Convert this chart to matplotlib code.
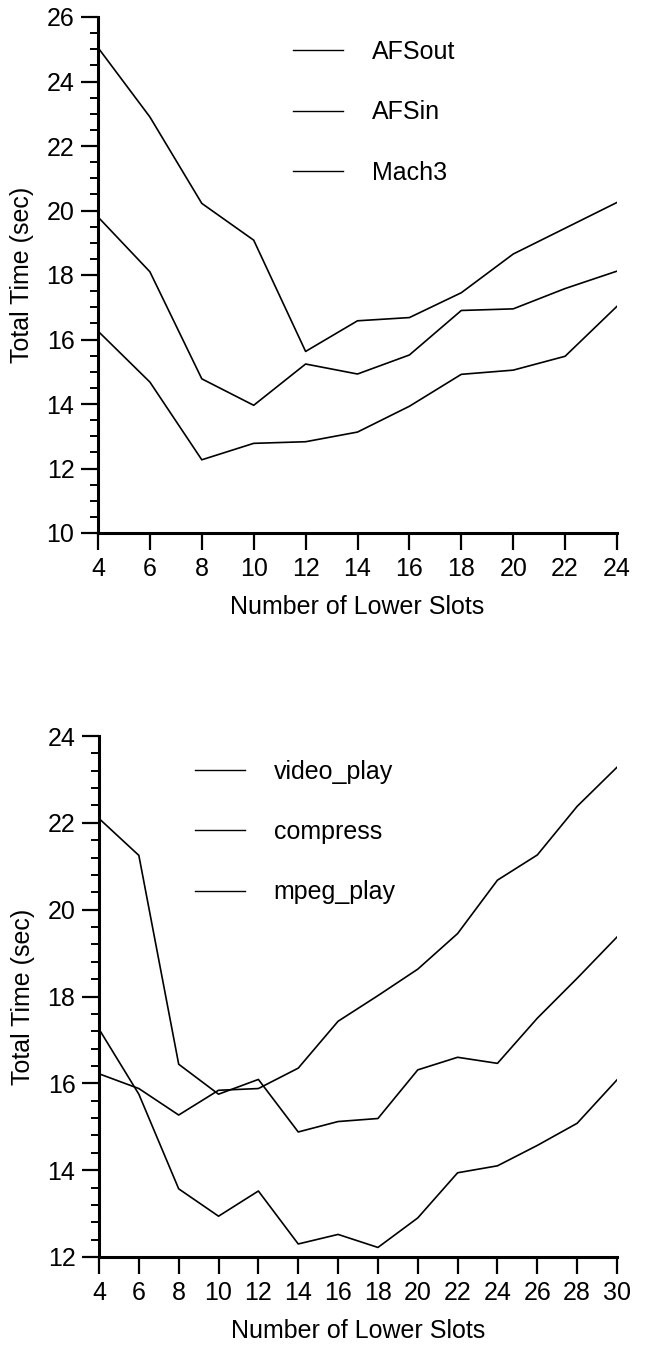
import matplotlib
matplotlib.use("Agg")
import matplotlib.pyplot as plt
from matplotlib.ticker import MultipleLocator, AutoMinorLocator

# Upper panel: slot counts and run times
slots_a = [4, 6, 8, 10, 12, 14, 16, 18, 20, 22, 24]
afsout = [25.05, 22.9, 20.22, 19.08, 15.63, 16.58, 16.68, 17.45, 18.65, 19.45, 20.25]
afsin = [19.8, 18.1, 14.78, 13.96, 15.24, 14.93, 15.52, 16.9, 16.95, 17.58, 18.12]
mach3 = [16.26, 14.68, 12.27, 12.78, 12.83, 13.13, 13.93, 14.92, 15.05, 15.48, 17.03]
labels_a = ["AFSout", "AFSin", "Mach3"]

# Lower panel
slots_b = [4, 6, 8, 10, 12, 14, 16, 18, 20, 22, 24, 26, 28, 30]
video_play = [22.1, 21.25, 16.44, 15.75, 16.09, 14.88, 15.12, 15.19, 16.31, 16.6,
              16.46, 17.5, 18.42, 19.37]
compress = [16.22, 15.88, 15.27, 15.84, 15.88, 16.35, 17.43, 18.02, 18.63, 19.45,
            20.68, 21.26, 22.38, 23.28]
mpeg_play = [17.25, 15.75, 13.57, 12.94, 13.52, 12.3, 12.52, 12.22, 12.9, 13.94,
             14.1, 14.57, 15.08, 16.08]
labels_b = ["video_play", "compress", "mpeg_play"]

xlabel = "Number of Lower Slots"
ylabel = "Total Time (sec)"

plt.rcParams["font.family"] = ["Liberation Sans", "DejaVu Sans"]
plt.rcParams["font.size"] = 18

W, H = 648, 1351
fig = plt.figure(figsize=(W / 100, H / 100), dpi=100)


def frac_box(left, right, top, bottom):
    return [left / W, 1 - bottom / H, (right - left) / W, (bottom - top) / H]


ax1 = fig.add_axes(frac_box(98, 617, 17, 533))
ax2 = fig.add_axes(frac_box(99, 617, 736, 1257))


def style(ax, xlim, ylim, xstep, ystep, nminor, legend_anchor):
    ax.set_xlim(*xlim)
    ax.set_ylim(*ylim)
    ax.xaxis.set_major_locator(MultipleLocator(xstep))
    ax.yaxis.set_major_locator(MultipleLocator(ystep))
    ax.yaxis.set_minor_locator(AutoMinorLocator(nminor))
    for s in ("top", "right"):
        ax.spines[s].set_visible(False)
    for s in ("left", "bottom"):
        ax.spines[s].set_linewidth(2.2)
    ax.tick_params(which="major", direction="out", length=12, width=1.6,
                   pad=5, labelsize=18)
    ax.tick_params(which="minor", direction="out", length=6, width=1.4)
    ax.set_xlabel(xlabel, fontsize=18, labelpad=10)
    ax.set_ylabel(ylabel, fontsize=18)
    ax.yaxis.set_label_coords(-0.123, 0.5)
    leg = ax.legend(loc="upper left", bbox_to_anchor=legend_anchor,
                    frameon=False, fontsize=18, handlelength=2.0,
                    handletextpad=1.15, labelspacing=1.45,
                    borderpad=0, borderaxespad=0)
    for h in leg.get_lines():
        h.set_linewidth(1.0)


for series, lab in zip([afsout, afsin, mach3], labels_a):
    ax1.plot(slots_a, series, color="black", lw=1.2, label=lab)
style(ax1, (4, 24), (10, 26), 2, 2, 4, (0.376, 0.955))

for series, lab in zip([video_play, compress, mpeg_play], labels_b):
    ax2.plot(slots_b, series, color="black", lw=1.2, label=lab)
style(ax2, (4, 30), (12, 24), 2, 2, 5, (0.185, 0.954))

fig.savefig("out.png", dpi=100)
